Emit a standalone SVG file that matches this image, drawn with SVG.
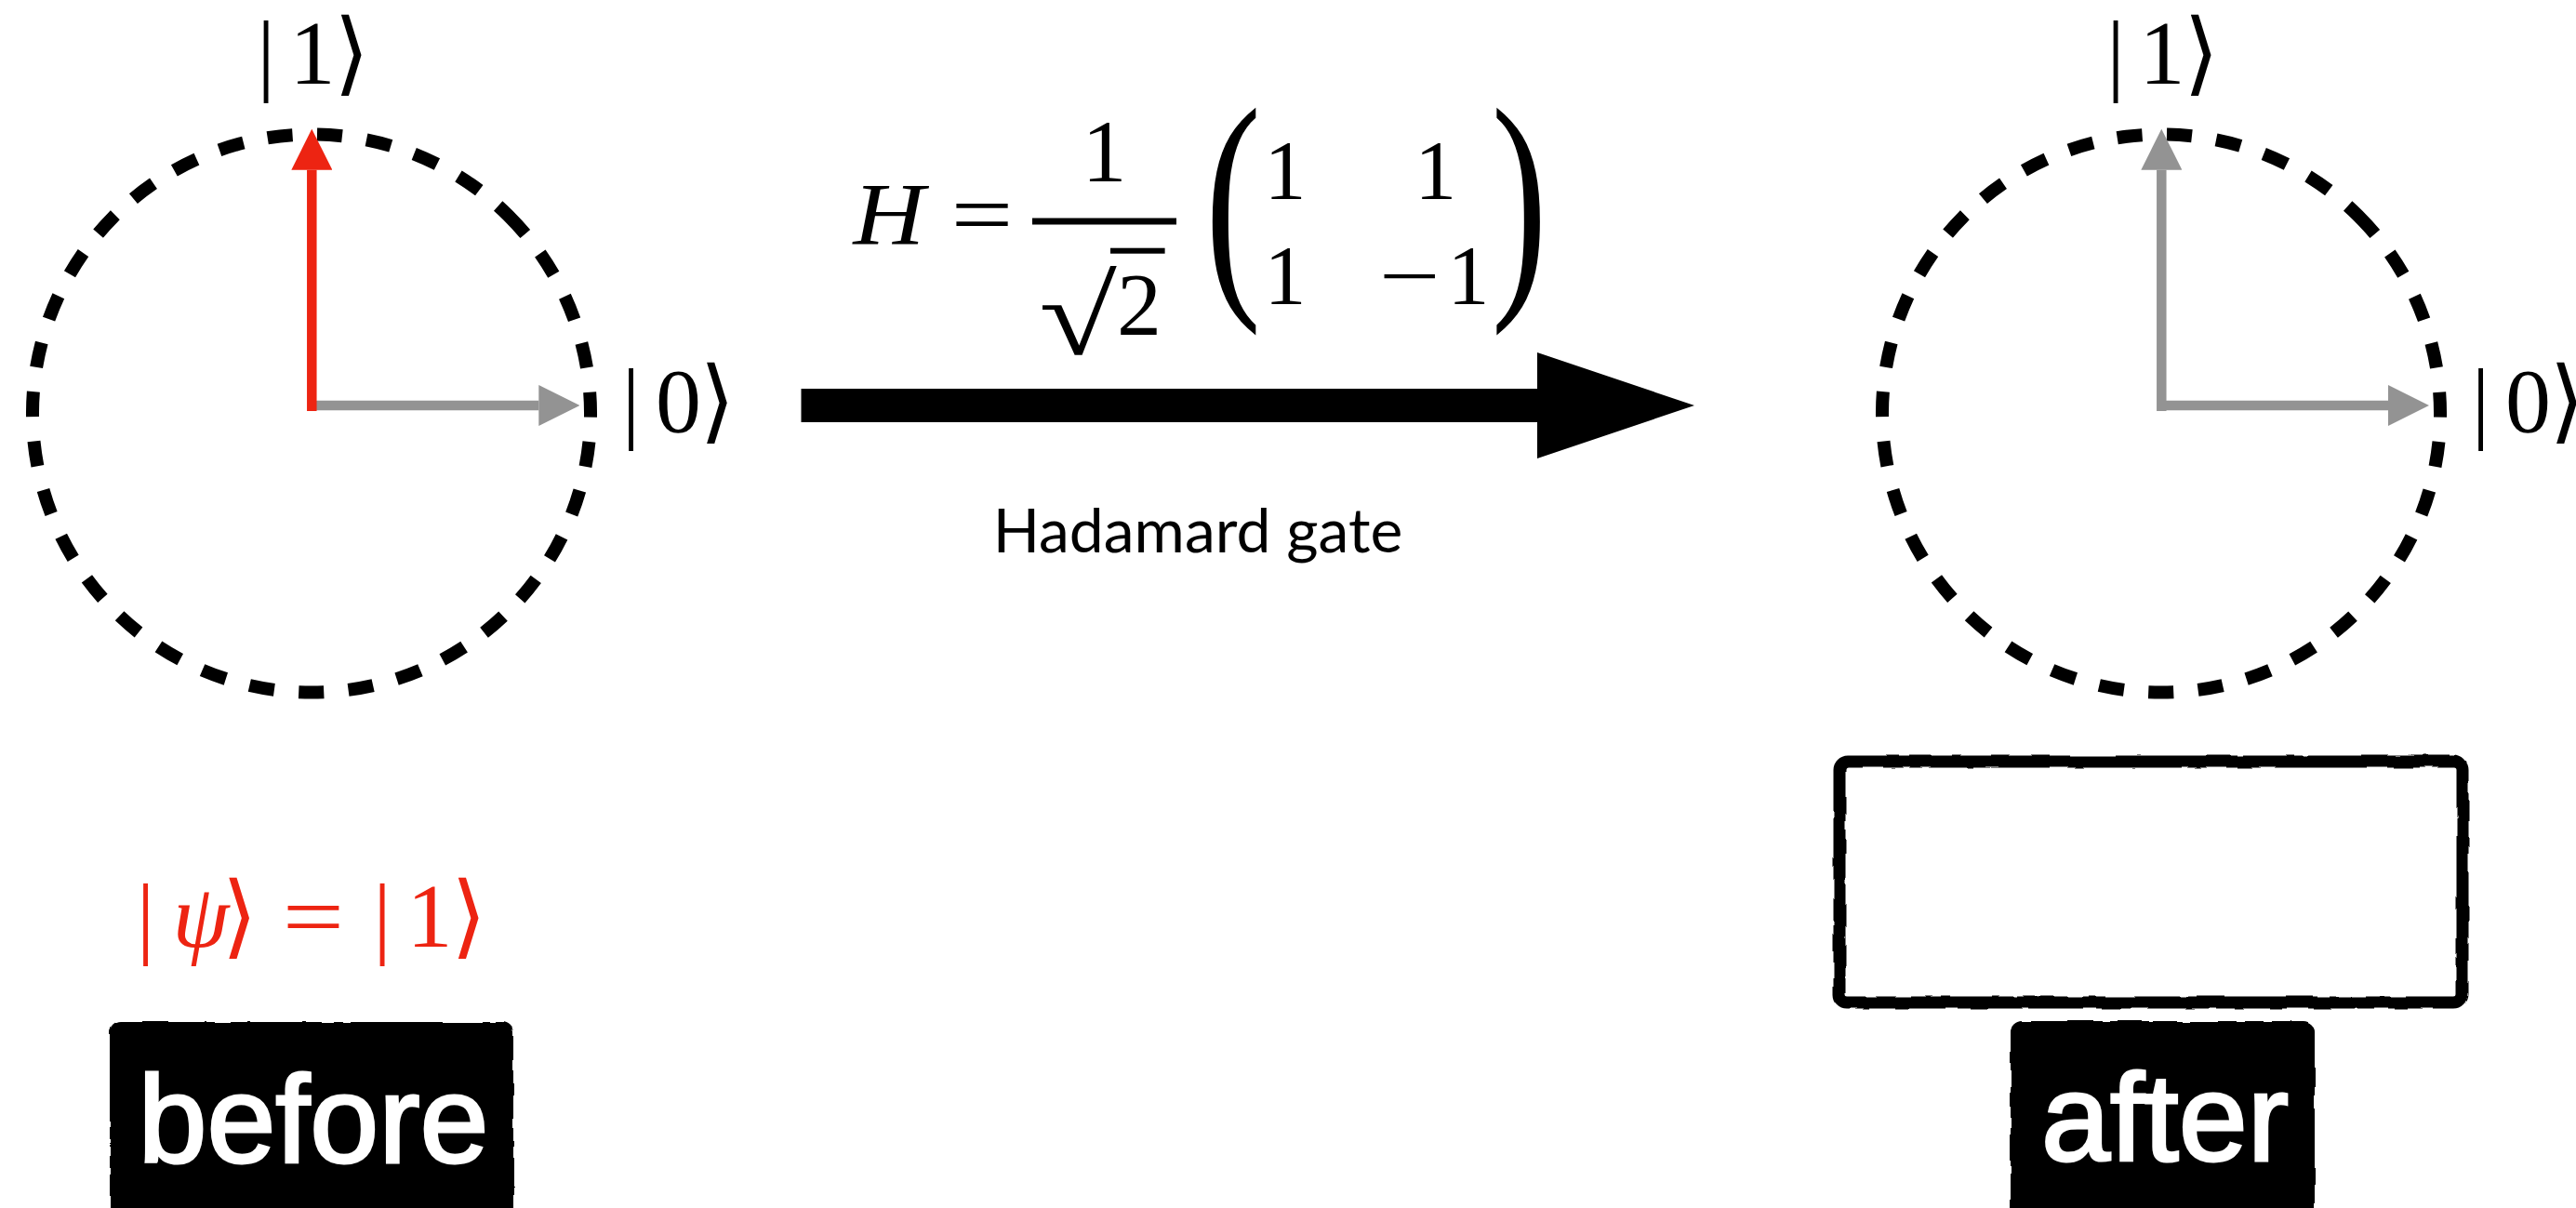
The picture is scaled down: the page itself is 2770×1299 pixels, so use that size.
<svg xmlns="http://www.w3.org/2000/svg" width="2770" height="1299" viewBox="0 0 2770 1299">
  <style>
    .ring { fill: none; stroke: #000; stroke-width: 14; stroke-dasharray: 27 26.41; }
    .shaft { fill: none; stroke-width: 10.5; }
    .red { stroke: #ED2412; }
    .gray { stroke: #939393; }
    .math { font-family: "Liberation Serif", "DejaVu Serif", serif; fill: #000; text-anchor: middle; }
    .it { font-style: italic; }
    .redtxt { fill: #ED2412; }
    .tag { font-family: "Liberation Sans", Arial, sans-serif; fill: #fff; stroke: #fff; stroke-width: 3; text-anchor: middle; }
    .caption { font-family: Lato, "Liberation Sans", sans-serif; fill: #000; text-anchor: middle; }
  </style>
  <defs>
    <marker id="head-red" markerUnits="userSpaceOnUse" viewBox="0 0 44 44" markerWidth="44" markerHeight="44" refX="0" refY="22" orient="auto">
      <path d="M0,0 L44,22 L0,44 Z" fill="#ED2412"/>
    </marker>
    <marker id="head-gray" markerUnits="userSpaceOnUse" viewBox="0 0 44 44" markerWidth="44" markerHeight="44" refX="0" refY="22" orient="auto">
      <path d="M0,0 L44,22 L0,44 Z" fill="#939393"/>
    </marker>
    <filter id="rough" x="-5%" y="-5%" width="110%" height="110%">
      <feTurbulence type="fractalNoise" baseFrequency="0.035" numOctaves="2" seed="4"/>
      <feDisplacementMap in="SourceGraphic" scale="5" xChannelSelector="R" yChannelSelector="G"/>
    </filter>
    <!-- unit dial outline, r = 300, path starts at upper right so the dash seam sits there -->
    <path id="ring" d="M211.5,-212.8 A300,300 0 0 1 -211.5,212.8 A300,300 0 0 1 211.5,-212.8"/>
  </defs>

  <rect width="2770" height="1299" fill="#fff"/>

  <!-- state before the gate -->
  <g id="dial-before">
    <use href="#ring" class="ring" transform="translate(335,444.5)"/>
    <line class="shaft gray" x1="338" y1="436" x2="579.3" y2="436" marker-end="url(#head-gray)"/>
    <line class="shaft red" x1="335.3" y1="442" x2="335.3" y2="182.7" marker-end="url(#head-red)"/>
    <text class="math" font-size="98" y="90"><tspan x="286">|</tspan><tspan x="336">1</tspan><tspan x="378">⟩</tspan></text>
    <text class="math" font-size="98" y="464"><tspan x="678.5">|</tspan><tspan x="729.5">0</tspan><tspan x="771.3">⟩</tspan></text>
  </g>

  <!-- state after the gate -->
  <g id="dial-after">
    <use href="#ring" class="ring" transform="translate(2324,444.5)"/>
    <line class="shaft gray" x1="2324.3" y1="442" x2="2324.3" y2="182.7" marker-end="url(#head-gray)"/>
    <line class="shaft gray" x1="2327" y1="436" x2="2568" y2="436" marker-end="url(#head-gray)"/>
    <text class="math" font-size="98" y="90"><tspan x="2275">|</tspan><tspan x="2325">1</tspan><tspan x="2367">⟩</tspan></text>
    <text class="math" font-size="98" y="464"><tspan x="2667.5">|</tspan><tspan x="2718.5">0</tspan><tspan x="2760.3">⟩</tspan></text>
  </g>

  <!-- Hadamard matrix -->
  <g id="gate-formula">
    <text class="math it" transform="translate(956,263) scale(1.12,1)" font-size="95">H</text>
    <text class="math" transform="translate(1056,263) scale(1.25,1)" font-size="95">=</text>
    <text class="math" x="1187.5" y="195" font-size="96">1</text>
    <rect x="1110" y="234.5" width="155" height="7" fill="#000"/>
    <text class="math" transform="translate(1159,381) scale(1.27,1)" font-size="120">√</text>
    <rect x="1194" y="266.7" width="58.6" height="6" fill="#000"/>
    <text class="math" x="1225" y="360" font-size="96">2</text>
    <text class="math" transform="translate(1326,303) scale(0.67,1)" font-size="270">(</text>
    <text class="math" transform="translate(1633.7,303) scale(0.67,1)" font-size="270">)</text>
    <text class="math" font-size="90" y="214"><tspan x="1382">1</tspan><tspan x="1543.7">1</tspan></text>
    <text class="math" font-size="90" y="326.7"><tspan x="1382">1</tspan><tspan x="1579">1</tspan></text>
    <text class="math" transform="translate(1516,326.7) scale(1.3,1)" font-size="90">−</text>
  </g>

  <g id="connectors">
    <path id="gate-arrow" d="M861.5,418 H1653 V379 L1822,436 L1653,493 V454 H861.5 Z" fill="#000"/>
  </g>

  <g id="gate-label">
    <text class="caption" x="1288" y="594" font-size="66">Hadamard gate</text>
  </g>

  <!-- initial state -->
  <g id="state-before">
    <text class="math redtxt" font-size="98" y="1018"><tspan x="156.5">|</tspan><tspan x="216" class="it">ψ</tspan><tspan x="257.5">⟩</tspan><tspan x="411">|</tspan><tspan x="462">1</tspan><tspan x="504.2">⟩</tspan></text>
    <text class="math redtxt" transform="translate(337,1018) scale(1.2,1)" font-size="98">=</text>
  </g>

  <g id="tag-before">
    <rect x="118" y="1099" width="434" height="230" rx="12" fill="#000" filter="url(#rough)"/>
    <text class="tag" x="337" y="1250" font-size="133">before</text>
  </g>

  <g id="result-box">
    <rect x="1978" y="819" width="670" height="259" rx="9" fill="none" stroke="#000" stroke-width="13" filter="url(#rough)"/>
  </g>

  <g id="tag-after">
    <rect x="2162" y="1098" width="327" height="230" rx="12" fill="#000" filter="url(#rough)"/>
    <text class="tag" x="2328" y="1248" font-size="133">after</text>
  </g>
</svg>
